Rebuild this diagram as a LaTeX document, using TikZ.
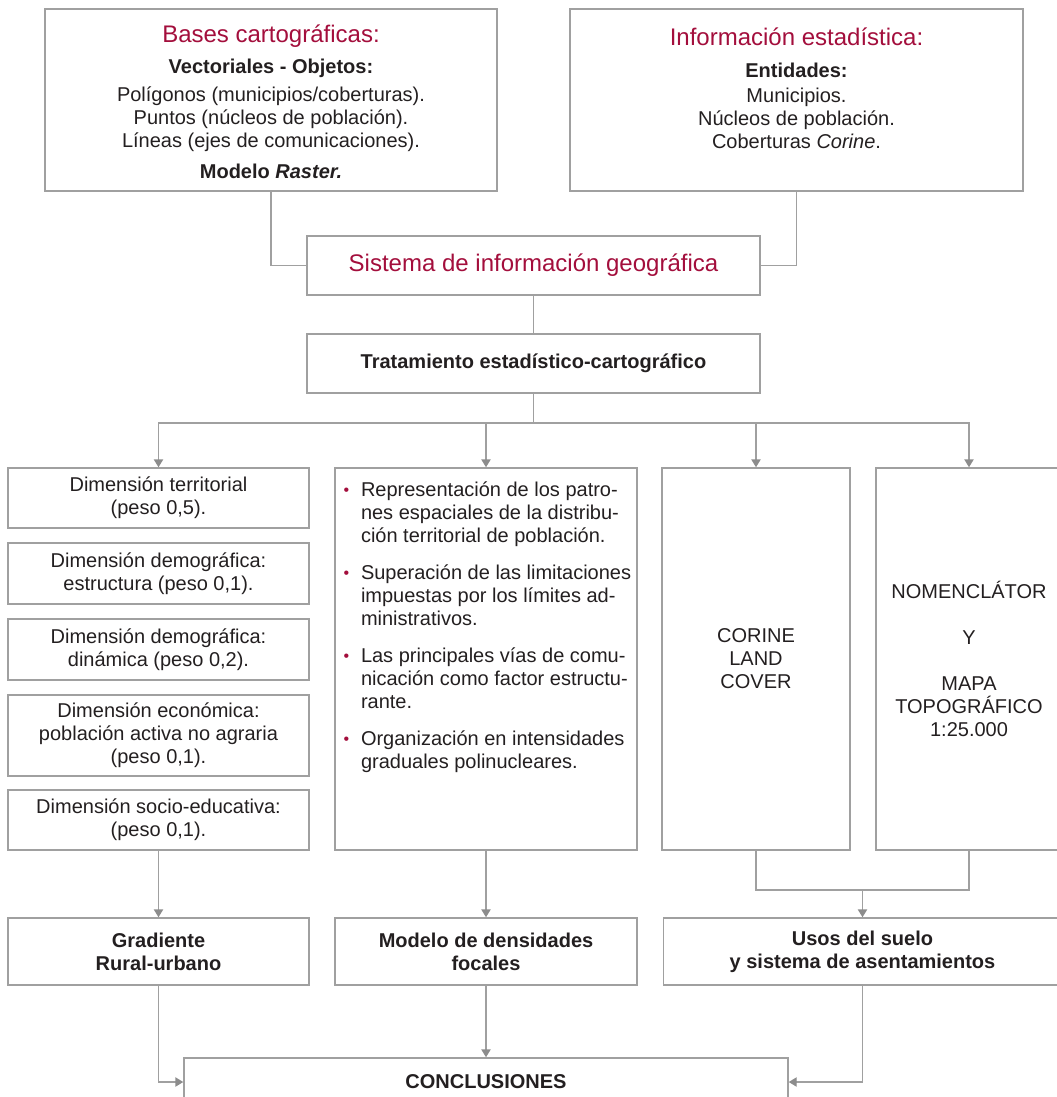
\documentclass[tikz,border=0pt]{standalone}
\usepackage{fontspec}
\setmainfont{Liberation Sans}
\usetikzlibrary{arrows.meta}

\definecolor{geored}{RGB}{163,14,60}
\definecolor{linegray}{RGB}{160,160,160}
\definecolor{tipgray}{RGB}{140,140,140}
\definecolor{textdark}{RGB}{35,31,32}
\newcommand{\titulo}[1]{{\color{geored}\fontsize{18pt}{17.25pt}\selectfont #1}}
\newcommand{\punto}{\hspace*{6.5pt}\makebox[13pt][l]{\color{geored}\fontsize{12pt}{12pt}\selectfont\raisebox{0.5pt}{\textbullet}}}
\newcommand{\salto}{\break}

\begin{document}
\begin{tikzpicture}[x=0.75pt,y=-0.75pt,
  caja/.style={draw=linegray,line width=1.1pt,text=textdark,align=center,inner sep=0pt,
    font=\fontsize{15pt}{17.25pt}\selectfont},
  linea/.style={draw=linegray,line width=1.1pt},
  flecha/.style={linea,-{Triangle[width=7pt,length=6pt,color=tipgray]}}]
  \useasboundingbox (0,0) rectangle (1057,1097);
  \clip (0,0) rectangle (1057,1097);

  \node[caja] (bases) at (271,100) {\parbox[c][136.5pt][t]{339pt}{\centering
    \rule{0pt}{25.2pt}\titulo{Bases cartográficas:}\\[5.75pt]
    \textbf{Vectoriales - Objetos:}\\[3.75pt]
    Polígonos (municipios/coberturas).\\
    Puntos (núcleos de población).\\
    Líneas (ejes de comunicaciones).\\[6pt]
    \textbf{Modelo \textit{Raster.}}}};
  \node[caja] (info) at (796.5,100) {\parbox[c][136.5pt][t]{339.75pt}{\centering
    \rule{0pt}{27.7pt}\titulo{Información estadística:}\\[6.15pt]
    \textbf{Entidades:}\\[2pt]
    Municipios.\\
    Núcleos de población.\\
    Coberturas \textit{Corine}.}};

  \node[caja,minimum width=339.75pt,minimum height=44.25pt] (sig) at (533.5,265.5)
    {\titulo{Sistema de información geográfica}};
  \node[caja,minimum width=339.75pt,minimum height=44.25pt] (trat) at (533.5,363.5)
    {\textbf{Tratamiento estadístico-cartográfico}};

  \node[caja,minimum width=225.75pt,minimum height=45pt] (d1) at (158.5,498)
    {Dimensión territorial\\(peso 0,5).};
  \node[caja,minimum width=225.75pt,minimum height=45.75pt] (d2) at (158.5,573.5)
    {Dimensión demográfica:\\estructura (peso 0,1).};
  \node[caja,minimum width=225.75pt,minimum height=45.75pt] (d3) at (158.5,649.5)
    {Dimensión demográfica:\\dinámica (peso 0,2).};
  \node[caja,minimum width=225.75pt,minimum height=60.75pt] (d4) at (158.5,735.5)
    {Dimensión económica:\\población activa no agraria\\(peso 0,1).};
  \node[caja,minimum width=225.75pt,minimum height=45pt] (d5) at (158.5,820)
    {Dimensión socio-educativa:\\(peso 0,1).};

  \node[caja] (mid) at (486,659) {\parbox[c][286.5pt][t]{226.5pt}{\raggedright
    \hangindent=19.5pt\hangafter=1
    \rule{0pt}{21pt}\punto Representación de los patro-\salto
    nes espaciales de la distribu-\salto
    ción territorial de población.\par
    \vspace{10.5pt}\hangindent=19.5pt\hangafter=1
    \punto Superación de las limitaciones\salto
    impuestas por los límites ad-\salto
    ministrativos.\par
    \vspace{10.5pt}\hangindent=19.5pt\hangafter=1
    \punto Las principales vías de comu-\salto
    nicación como factor estructu-\salto
    rante.\par
    \vspace{10.5pt}\hangindent=19.5pt\hangafter=1
    \punto Organización en intensidades\salto
    graduales polinucleares.\par}};
  \node[caja,minimum width=141pt,minimum height=286.5pt] (cor) at (756,659)
    {CORINE\\LAND\\COVER};
  \node[caja,minimum width=139.5pt,minimum height=286.5pt] (nom) at (969,659)
    {NOMENCLÁTOR\\[17.25pt]Y\\[17.25pt]MAPA\\TOPOGRÁFICO\\1:25.000};

  \node[caja,minimum width=225.75pt,minimum height=50.25pt] (grad) at (158.5,951.5)
    {\textbf{Gradiente}\\\textbf{Rural-urbano}};
  \node[caja,minimum width=226.5pt,minimum height=50.25pt] (mod) at (486,951.5)
    {\textbf{Modelo de densidades}\\\textbf{focales}};
  \node[caja,minimum width=298.5pt,minimum height=50.25pt] (usos) at (862.5,951.5)
    {\textbf{Usos del suelo}\\\textbf{y sistema de asentamientos}};
  \node[caja,minimum width=453pt,minimum height=36pt] (concl) at (486,1082)
    {\textbf{CONCLUSIONES}};

  \coordinate (reparto) at (533.5,423);
  \coordinate (union) at (862.5,890);
  \draw[linea] (bases.south) |- (sig.west);
  \draw[linea] (info.south) |- (sig.east);
  \draw[linea] (sig.south) -- (trat.north);
  \draw[linea] (trat.south) -- (reparto);
  \foreach \destino in {d1,mid,cor,nom}
    \draw[flecha] (reparto) -| (\destino.north);
  \draw[flecha] (d5.south) -- (grad.north);
  \draw[flecha] (mid.south) -- (mod.north);
  \draw[linea] (cor.south) |- (union) -| (nom.south);
  \draw[flecha] (union) -- (usos.north);
  \draw[flecha] (grad.south) |- (concl.west);
  \draw[flecha] (mod.south) -- (concl.north);
  \draw[flecha] (usos.south) |- (concl.east);
\end{tikzpicture}
\end{document}
